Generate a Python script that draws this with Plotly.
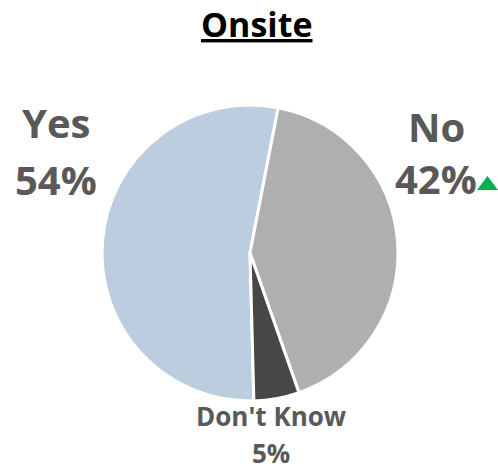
import plotly.graph_objects as go

categories = ["Yes", "No", "Don't Know"]
values = [54, 42, 5]
colors = ["#BBCDDF", "#AFAFAF", "#474747"]
title = "Onsite"

W, H = 498, 471
cx, cy, r = 250, 253, 148

fig = go.Figure()
fig.add_trace(go.Pie(
    labels=categories, values=values, sort=False,
    direction="clockwise", rotation=178.5,
    marker=dict(colors=colors, line=dict(color="white", width=3)),
    textinfo="none", hoverinfo="label+percent", showlegend=False,
    domain=dict(x=[(cx - r) / W, (cx + r) / W], y=[1 - (cy + r) / H, 1 - (cy - r) / H]),
))

font = "Open Sans"
grey = "#595959"
# (x center, label y, value y, font size) in pixels
label_pos = {"Yes": (56, 123, 179, 40), "No": (436, 127, 178, 40), "Don't Know": (271, 416, 453, 26)}
for cat, val in zip(categories, values):
    x, y1, y2, fs = label_pos[cat]
    fig.add_annotation(x=x / W, y=1 - y1 / H, xref="paper", yref="paper", text=f"<b>{cat}</b>",
                       xanchor="center", yanchor="middle",
                       showarrow=False, font=dict(family=font, size=fs, color=grey))
    fig.add_annotation(x=x / W, y=1 - y2 / H, xref="paper", yref="paper", text=f"<b>{val}%</b>",
                       xanchor="center", yanchor="middle",
                       showarrow=False, font=dict(family=font, size=fs, color=grey))

# green up-triangle indicator next to "No" value
tri = [(477, 190), (498, 190), (487.5, 176)]
path = "M " + " L ".join(f"{x / W},{1 - y / H}" for x, y in tri) + " Z"
fig.add_shape(type="path", path=path, xref="paper", yref="paper",
              fillcolor="#00B050", line=dict(width=0))

fig.add_annotation(x=257 / W, y=1 - 24 / H, xref="paper", yref="paper", text=f"<b><u>{title}</u></b>",
                   xanchor="center", yanchor="middle",
                   showarrow=False, font=dict(family=font, size=34, color="black"))

fig.update_layout(width=W, height=H, margin=dict(l=0, r=0, t=0, b=0),
                  paper_bgcolor="white", plot_bgcolor="white")
fig.write_html("out.html")
